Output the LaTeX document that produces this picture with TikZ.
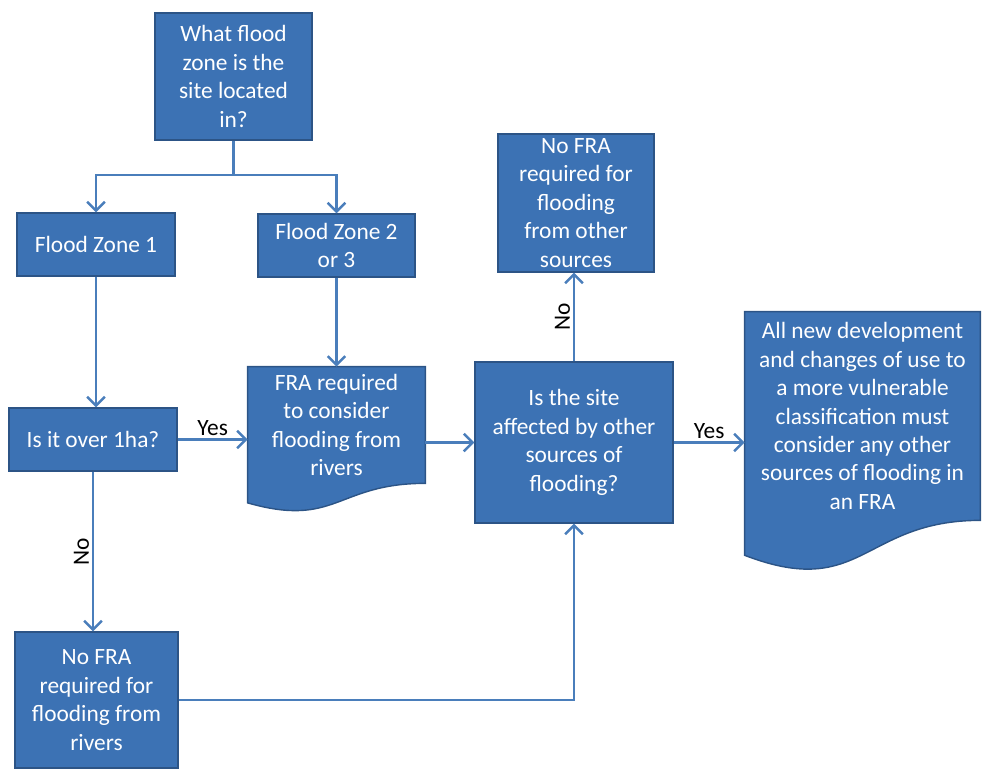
\documentclass[tikz,border=0pt]{standalone}
\usepackage{fontspec}
\setmainfont{Carlito}
\usepackage{tikz}
\usetikzlibrary{backgrounds,arrows.meta}
\usetikzlibrary{calc}

\definecolor{boxfill}{RGB}{60,114,180}
\definecolor{boxline}{RGB}{44,84,134}
\definecolor{arrowline}{RGB}{74,126,187}

\tikzset{
  box/.style={draw=boxline, line width=0.8pt, fill=boxfill, text=white, align=center, inner sep=0pt},
  docbox/.style={text=white, align=center, inner sep=0pt},
  docfill/.style={draw=boxline, line width=0.8pt, fill=boxfill},
  arr/.style={draw=arrowline, line width=1.4pt, -{Straight Barb[length=5pt,width=10pt]}},
  link/.style={draw=arrowline, line width=1.4pt},
  lab/.style={text=black, inner sep=1.5pt},
}

\begin{document}
\begin{tikzpicture}[font=\fontsize{13.3}{16.2}\selectfont]
      \useasboundingbox (0,0) rectangle (19.66,-15.38);

      \node[box, minimum width=3.14cm, minimum height=2.54cm] (where) at (4.67,-1.53) {What flood\\zone is the\\site located\\in?};
      \node[box, minimum width=3.16cm, minimum height=1.26cm] (zone1) at (1.92,-4.89) {Flood Zone 1};
      \node[box, minimum width=3.14cm, minimum height=1.26cm] (zone23) at (6.73,-4.91) {Flood Zone 2\\or 3};
      \node[box, minimum width=3.36cm, minimum height=1.26cm] (overha) at (1.86,-8.79) {Is it over 1ha?};
      \node[docbox, minimum width=3.54cm, minimum height=2.32cm] (fra) at (6.73,-8.5) {FRA required\\to consider\\flooding from\\rivers};
      \node[box, minimum width=3.96cm, minimum height=3.22cm] (affected) at (11.48,-8.85) {Is the site\\affected by other\\sources of\\flooding?};
      \node[box, minimum width=3.12cm, minimum height=2.76cm] (noother) at (11.52,-4.06) {No FRA\\required for\\flooding\\from other\\sources};
      \node[docbox, minimum width=4.70cm, minimum height=4.16cm] (allnew) at (17.25,-8.32) {All new development\\and changes of use to\\a more vulnerable\\classification must\\consider any other\\sources of flooding in\\an FRA};
      \node[box, minimum width=3.26cm, minimum height=2.72cm] (norivers) at (1.93,-14.0) {No FRA\\required for\\flooding from\\rivers};
      \coordinate (split) at (4.67,-3.5);

      \begin{scope}[on background layer]
        \foreach \n in {fra,allnew}
          \draw[docfill] (\n.north west) -- (\n.north east) -- (\n.south east)
            .. controls (\n.south) and ($(\n.south)!-0.384!(\n.north)$)
            .. ($(\n.south west)!-0.1675!(\n.north west)$) -- cycle;
      \end{scope}

      \draw[link] (where.south) -- (split);
      \draw[arr] (split) -| (zone1.north);
      \draw[arr] (split) -| (zone23.north);
      \draw[arr] (zone1.south) -- (zone1.south |- overha.north);
      \draw[arr] (zone23.south) -- (fra.north);
      \draw[arr] (overha.east) -- (overha.east -| fra.west) node[lab, midway, above] {Yes};
      \draw[arr] (overha.south) -- (overha.south |- norivers.north) node[lab, midway, rotate=90, anchor=south] {No};
      \draw[arr] (fra.east |- affected.west) -- (affected.west);
      \draw[arr] (affected.north) -- (affected.north |- noother.south) node[lab, midway, rotate=90, anchor=south] {No};
      \draw[arr] (affected.east) -- (affected.east -| allnew.west) node[lab, midway, above] {Yes};
      \draw[arr] (norivers.east) -| (affected.south);
    \end{tikzpicture}
\end{document}
